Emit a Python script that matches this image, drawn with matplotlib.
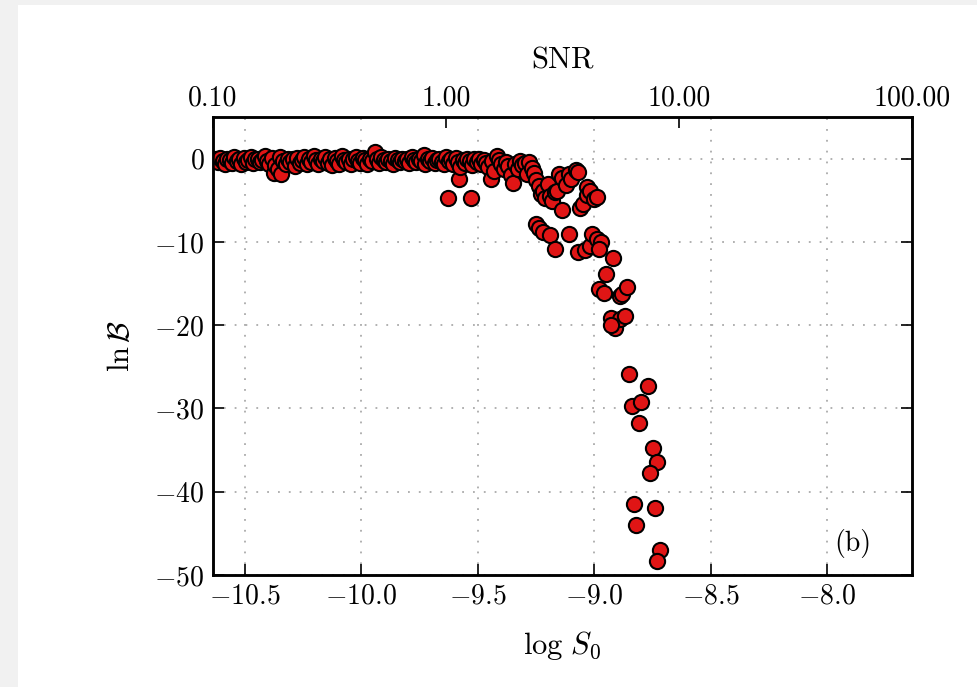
import matplotlib
matplotlib.use("Agg")
import matplotlib.pyplot as plt
from matplotlib.patches import Rectangle
from matplotlib.ticker import FixedLocator, FormatStrFormatter, NullLocator

# log S0 and ln B
log_s0 = [
    -10.625, -10.615, -10.605, -10.595, -10.585, -10.575, -10.565, -10.555, -10.545, -10.535,
    -10.525, -10.515, -10.505, -10.495, -10.485, -10.475, -10.465, -10.455, -10.445, -10.435,
    -10.425, -10.415, -10.405, -10.395, -10.385, -10.375, -10.370, -10.360, -10.345, -10.350,
    -10.335, -10.325, -10.315, -10.305, -10.295, -10.285, -10.275, -10.265, -10.255, -10.245,
    -10.235, -10.225, -10.215, -10.205, -10.195, -10.185, -10.175, -10.165, -10.155, -10.145,
    -10.135, -10.125, -10.115, -10.105, -10.095, -10.085, -10.075, -10.065, -10.055, -10.045,
    -10.035, -10.025, -10.015, -10.005, -9.995, -9.985, -9.975, -9.965, -9.955, -9.940,
    -9.935, -9.925, -9.915, -9.905, -9.895, -9.885, -9.875, -9.865, -9.855, -9.845,
    -9.835, -9.825, -9.815, -9.805, -9.795, -9.785, -9.775, -9.765, -9.755, -9.745,
    -9.730, -9.725, -9.715, -9.705, -9.695, -9.685, -9.675, -9.665, -9.655, -9.645,
    -9.635, -9.630, -9.625, -9.615, -9.605, -9.595, -9.585, -9.580, -9.575, -9.565,
    -9.555, -9.545, -9.535, -9.530, -9.525, -9.515, -9.505, -9.495, -9.485, -9.475,
    -9.465, -9.455, -9.445, -9.440, -9.430, -9.420, -9.410, -9.400, -9.390, -9.380,
    -9.370, -9.360, -9.350, -9.340, -9.330, -9.320, -9.310, -9.300, -9.290, -9.280,
    -9.270, -9.260, -9.250, -9.240, -9.230, -9.220, -9.210, -9.200, -9.190, -9.180,
    -9.170, -9.160, -9.150, -9.140, -9.140, -9.120, -9.110, -9.100, -9.080, -9.070,
    -9.060, -9.050, -9.030, -9.030, -9.020, -9.000, -8.990,
    -9.250, -9.240, -9.220, -9.190, -9.170, -9.110, -9.070, -9.040, -9.020, -9.010,
    -8.990, -8.970, -8.980, -8.920,
    -8.950, -8.980, -8.960, -8.890, -8.880, -8.860, -8.930, -8.910, -8.890, -8.870,
    -8.930, -8.850, -8.770, -8.840, -8.800, -8.810, -8.750, -8.730, -8.760, -8.830,
    -8.740, -8.820, -8.720, -8.730,
]
ln_bayes = [
    -0.1, -0.4, 0.1, -0.3, -0.6, 0.0, -0.2, -0.5, 0.2, -0.3,
    -0.1, -0.6, 0.1, -0.4, -0.2, 0.2, -0.5, -0.1, 0.0, -0.4,
    -0.2, 0.3, -0.3, -0.7, 0.1, -1.7, -0.8, -1.2, -1.8, 0.2,
    -0.3, -0.6, 0.0, -0.4, -0.1, -0.9, 0.1, -0.5, -0.2, 0.2,
    -0.6, -0.1, -0.4, 0.3, -0.2, -0.7, 0.0, -0.3, 0.2, -0.5,
    -0.1, -0.8, 0.1, -0.3, -0.6, 0.3, -0.2, -0.4, 0.0, -0.7,
    -0.1, 0.2, -0.3, -0.5, 0.1, -0.2, -0.6, 0.0, -0.3, 0.8,
    -0.1, -0.5, 0.2, -0.2, -0.4, 0.0, -0.3, -0.6, 0.1, -0.2,
    -0.4, 0.0, -0.3, -0.1, -0.5, 0.2, -0.2, -0.4, 0.0, -0.3,
    0.4, -0.6, -0.1, -0.3, 0.1, -0.5, -0.2, 0.0, -0.4, -0.7,
    0.2, -4.7, -0.3, -0.1, -0.6, 0.1, -0.4, -2.4, -1.0, -0.2,
    -0.5, 0.0, -0.3, -4.7, -0.8, -0.1, -0.4, 0.0, -0.6, -0.2,
    -0.5, -1.0, -2.4, -0.3, -1.5, 0.3, -0.2, -0.7, -1.3, -0.4,
    -0.9, -2.0, -2.9, -0.6, -1.2, -0.3, -0.8, -0.5, -1.8, -0.4,
    -1.1, -1.7, -2.6, -3.3, -4.2, -3.9, -4.7, -3.0, -4.5, -5.1,
    -4.0, -3.9, -1.8, -2.3, -6.2, -3.2, -1.8, -2.5, -1.4, -1.6,
    -5.9, -5.5, -3.4, -4.4, -3.9, -4.8, -4.6,
    -7.8, -8.3, -8.8, -9.2, -10.8, -9.0, -11.2, -11.0, -10.5, -9.0,
    -9.6, -10.0, -10.9, -11.9,
    -13.9, -15.7, -16.1, -16.5, -16.2, -15.4, -19.1, -20.3, -19.2, -18.9,
    -20.0, -25.9, -27.3, -29.7, -29.2, -31.8, -34.8, -36.4, -37.8, -41.5,
    -42.0, -44.0, -47.0, -48.3,
]

x_ticks = [-10.5, -10.0, -9.5, -9.0, -8.5, -8.0]
y_ticks = [0, -10, -20, -30, -40, -50]
snr_ticks = [0.1, 1.0, 10.0, 100.0]

plt.rcParams.update({
    "font.family": "serif",
    "font.serif": ["cmr10"],
    "mathtext.fontset": "cm",
    "axes.formatter.use_mathtext": True,
    "axes.unicode_minus": True,
})

fig = plt.figure(figsize=(9.77, 6.87), dpi=100)
fig.patch.set_facecolor("#f1f1f1")
fig.patches.append(Rectangle((18 / 977, 0), 1, 1 - 5 / 687, transform=fig.transFigure,
                             facecolor="white", edgecolor="none", zorder=-10))

ax = fig.add_axes([213 / 977, 1 - 575 / 687, 699 / 977, 458 / 687])
ax.scatter(log_s0, ln_bayes, s=120, c="#e01515", edgecolors="black", linewidths=1.5, zorder=3)

ax.set_xlim(-10.637, -7.637)
ax.set_ylim(-50, 5)
ax.set_xticks(x_ticks)
ax.set_yticks(y_ticks)
ax.grid(True, linestyle=(0, (1, 5)), color="#aaaaaa", linewidth=1.3)
ax.tick_params(direction="in", length=8, width=1.2, labelsize=20, top=False, right=True, pad=6)
for sp in ax.spines.values():
    sp.set_linewidth(1.8)
ax.set_xlabel(r"$\log\,S_0$", fontsize=22, labelpad=14)
ax.set_ylabel(r"$\ln\mathcal{B}$", fontsize=22, labelpad=14)
ax.text(0.915, 0.068, "(b)", transform=ax.transAxes, fontsize=20, ha="center", va="center")

# SNR axis on top
ax2 = ax.twiny()
ax2.set_xscale("log")
ax2.set_xlim(0.1, 100)
ax2.xaxis.set_major_locator(FixedLocator(snr_ticks))
ax2.xaxis.set_minor_locator(NullLocator())
ax2.xaxis.set_major_formatter(FormatStrFormatter("%.2f"))
ax2.tick_params(direction="in", length=8, width=1.2, labelsize=20, pad=4)
ax2.set_xlabel("SNR", fontsize=22, labelpad=12)
for sp in ax2.spines.values():
    sp.set_linewidth(1.8)

fig.savefig("out.png", dpi=100, facecolor=fig.get_facecolor())
